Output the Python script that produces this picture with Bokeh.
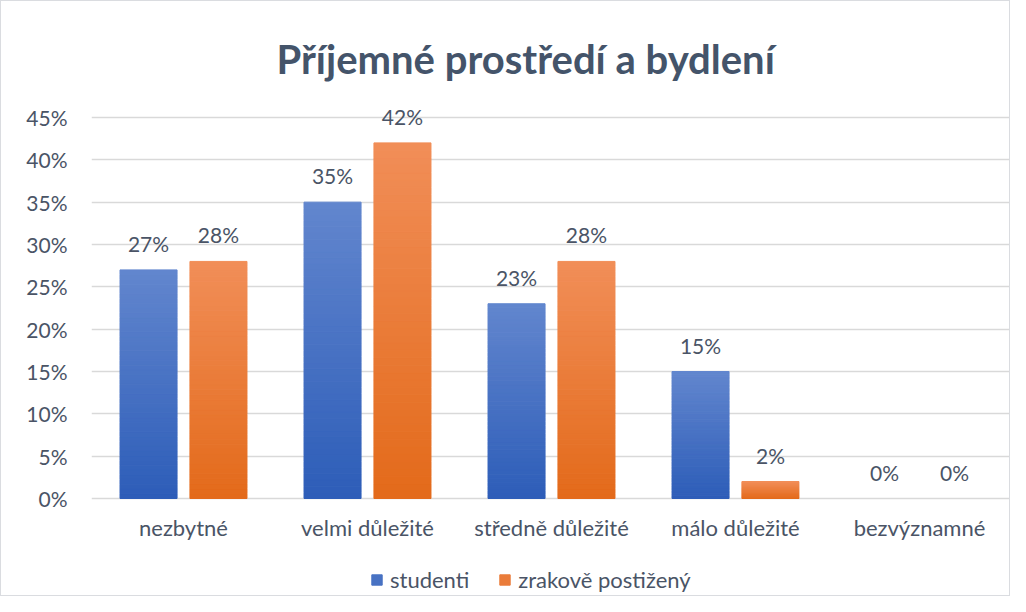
from bokeh.plotting import figure
from bokeh.models import (LabelSet, ColumnDataSource, Legend, LegendItem,
                          FixedTicker, Range1d)
from bokeh.core.properties import value
from bokeh.embed import file_html
from bokeh.resources import INLINE

# ---- data ----
categories = ["nezbytné", "velmi důležité", "středně důležité", "málo důležité", "bezvýznamné"]
studenti = [27, 35, 23, 15, 0]
zrakove = [28, 42, 28, 2, 0]
series_names = ["studenti", "zrakově postižený"]
y_ticks = [0, 5, 10, 15, 20, 25, 30, 35, 40, 45]
y_tick_labels = ["0%", "5%", "10%", "15%", "20%", "25%", "30%", "35%", "40%", "45%"]
title_text = "Příjemné prostředí a bydlení"

# ---- style ----
FONT = "Lato"
TXT = "#4A5466"
TITLE_C = "#44546A"
blue_top, blue_bot = (0x62, 0x86, 0xCE), (0x2D, 0x5D, 0xB8)
orng_top, orng_bot = (0xF1, 0x8E, 0x58), (0xE3, 0x6A, 0x1A)
N = 48
OFF = 0.19
BW = 0.31

p = figure(width=1010, height=596, output_backend="svg", toolbar_location=None,
           x_range=Range1d(0, 5), y_range=Range1d(-11.69, 47.95),
           min_border_left=90, min_border_right=0, min_border_top=91, min_border_bottom=0)
p.outline_line_color = None
p.background_fill_color = "white"
p.border_fill_color = "white"
p.styles = {"border": "1px solid #DADCE0", "box-sizing": "border-box"}

p.title.text = title_text
p.title.align = "left"
p.title.offset = 185
p.title.text_font = FONT
p.title.text_font_style = "bold"
p.title.text_font_size = "40px"
p.title.text_color = TITLE_C
p.title.standoff = 19


def hexc(c):
    return "#%02x%02x%02x" % tuple(int(round(v)) for v in c)


def seg_source(vals, offset, ctop, cbot):
    xs, bs, ts, cs = [], [], [], []
    for i, v in enumerate(vals):
        if v <= 0:
            continue
        for k in range(N):
            f = (k + 0.5) / N
            col = tuple(cbot[j] + (ctop[j] - cbot[j]) * f for j in range(3))
            xs.append(i + 0.5 + offset)
            bs.append(v * k / N)
            ts.append(v * (k + 1) / N)
            cs.append(hexc(col))
    return ColumnDataSource(dict(x=xs, bottom=bs, top=ts, color=cs))


src_b = seg_source(studenti, -OFF, blue_top, blue_bot)
src_o = seg_source(zrakove, OFF, orng_top, orng_bot)

r_b = p.vbar(x="x", bottom="bottom", top="top", width=BW, source=src_b,
             fill_color="color", line_color="color", line_width=1)
r_o = p.vbar(x="x", bottom="bottom", top="top", width=BW, source=src_o,
             fill_color="color", line_color="color", line_width=1)

# data labels
lab_src = ColumnDataSource(dict(
    x=[i + 0.5 - OFF for i in range(len(categories))] + [i + 0.5 + OFF for i in range(len(categories))],
    y=studenti + zrakove,
    t=["%d%%" % v for v in studenti] + ["%d%%" % v for v in zrakove]))
p.add_layout(LabelSet(x="x", y="y", text="t", source=lab_src, y_offset=18,
                      text_align="center", text_baseline="alphabetic",
                      text_font=value(FONT), text_font_size="21px", text_color=TXT))

# axes
p.yaxis.ticker = FixedTicker(ticks=y_ticks)
p.yaxis.major_label_overrides = {t: l for t, l in zip(y_ticks, y_tick_labels)}
p.yaxis.axis_line_color = None
p.yaxis.major_tick_line_color = None
p.yaxis.minor_tick_line_color = None
p.yaxis.major_tick_out = 0
p.yaxis.minor_tick_out = 0
p.yaxis.major_label_standoff = 24
p.yaxis.major_label_text_font = FONT
p.yaxis.major_label_text_font_size = "21px"
p.yaxis.major_label_text_color = TXT

xt = [i + 0.5 for i in range(len(categories))]
p.xaxis.fixed_location = 0
p.xaxis.ticker = FixedTicker(ticks=xt)
p.xaxis.major_label_overrides = {t: c for t, c in zip(xt, categories)}
p.xaxis.axis_line_color = None
p.xaxis.major_tick_line_color = None
p.xaxis.minor_tick_line_color = None
p.xaxis.major_tick_out = 0
p.xaxis.minor_tick_out = 0
p.xaxis.major_label_standoff = 15
p.xaxis.major_label_text_font = FONT
p.xaxis.major_label_text_font_size = "22px"
p.xaxis.major_label_text_color = TXT

p.xgrid.grid_line_color = None
p.ygrid.ticker = FixedTicker(ticks=y_ticks)
p.ygrid.grid_line_color = "#D9D9D9"
p.ygrid.grid_line_width = 1.5

# legend
legend = Legend(items=[LegendItem(label=series_names[0], renderers=[r_b], index=N // 2),
                       LegendItem(label=series_names[1], renderers=[r_o], index=N // 2)],
                orientation="horizontal", location=(279, 4), padding=0, margin=0,
                border_line_color=None, background_fill_alpha=0,
                glyph_width=13, glyph_height=13, label_standoff=7, spacing=29,
                label_text_font=FONT, label_text_font_size="22px", label_text_color=TXT)
p.add_layout(legend, "center")

open("out.html", "w").write(file_html(p, INLINE))
